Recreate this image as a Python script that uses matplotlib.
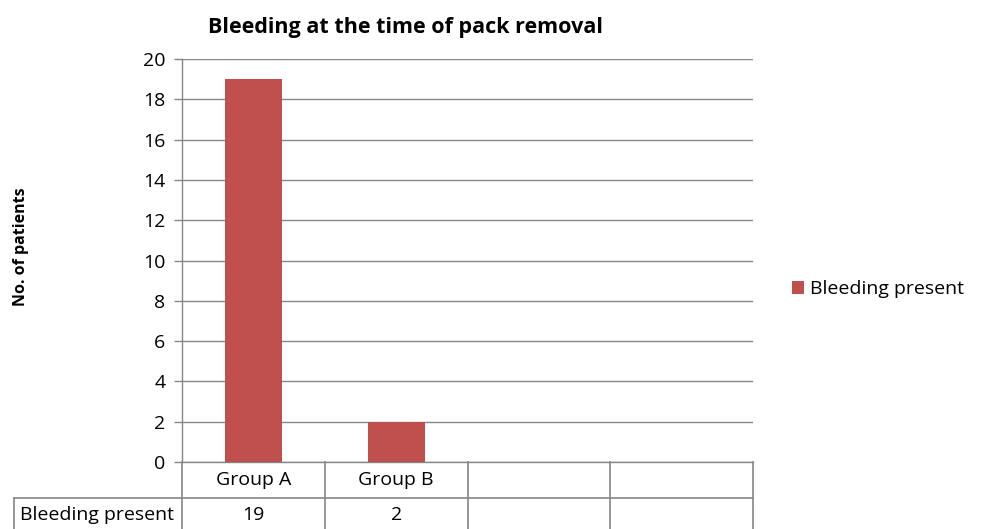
import matplotlib
matplotlib.use("Agg")
import matplotlib.pyplot as plt
from matplotlib.lines import Line2D
from matplotlib.patches import Patch

plt.rcParams['font.family'] = ['Open Sans', 'DejaVu Sans']

categories = ["Group A", "Group B", "", ""]
series_name = "Bleeding present"
values = [19, 2, None, None]
table_values = ["19", "2", "", ""]
title = "Bleeding at the time of pack removal"
ylabel = "No. of patients"

W, H = 981, 529
fig = plt.figure(figsize=(W / 100, H / 100), dpi=100)
L, R, T, B = 182, 753, 59, 462
ax = fig.add_axes([L / W, 1 - B / H, (R - L) / W, (B - T) / H])

FS = 14
bar_color = "#C0504D"
grid_color = "#868686"
xs = list(range(len(categories)))
bx = [x for x, v in zip(xs, values) if v is not None]
bv = [v for v in values if v is not None]
ax.bar(bx, bv, width=0.4, color=bar_color, zorder=3)
ax.set_xlim(-0.5, len(categories) - 0.5)
ax.set_ylim(0, 20)
ax.set_yticks(range(0, 21, 2))
ax.yaxis.grid(True, color=grid_color, linewidth=1.0, zorder=0)
ax.set_xticks([])
for s in ["top", "right"]:
    ax.spines[s].set_visible(False)
for s in ["left", "bottom"]:
    ax.spines[s].set_color(grid_color)
    ax.spines[s].set_linewidth(1.0)
ax.tick_params(axis="y", colors=grid_color, length=6, width=1.0, labelsize=FS, labelcolor="black", pad=6)

fig.text(405 / W, 1 - 28 / H, title, ha="center", va="center", fontsize=15.5, fontweight="bold")
fig.text(21 / W, 1 - 247 / H, ylabel, rotation=90, ha="center", va="center",
         fontsize=11.5, fontweight="bold")

axw = R - L
axh = B - T
def fx(px):
    return (px - L) / axw
def fy(py):
    return (B - py) / axh
row1 = 498
bottom = 540
col_w = axw / len(categories)
lw = 1.2
kw = dict(transform=ax.transAxes, color=grid_color, linewidth=lw, clip_on=False)
ax.add_line(Line2D([fx(14), 1], [fy(row1), fy(row1)], **kw))
ax.add_line(Line2D([1, 1], [fy(B), fy(bottom)], **kw))
for i in range(1, len(categories)):
    xp = L + i * col_w
    ax.add_line(Line2D([fx(xp), fx(xp)], [fy(B), fy(bottom)], **kw))
ax.add_line(Line2D([0, 0], [fy(B), fy(bottom)], **kw))
ax.add_line(Line2D([fx(14), fx(14)], [fy(row1), fy(bottom)], **kw))

for i, (c, tv) in enumerate(zip(categories, table_values)):
    ax.text(i, fy((B + row1) / 2), c, transform=ax.get_xaxis_transform(),
            ha="center", va="center", fontsize=FS)
    ax.text(i, fy((row1 + 529) / 2 + 1), tv, transform=ax.get_xaxis_transform(),
            ha="center", va="center", fontsize=FS)
ax.text(fx(97), fy((row1 + 529) / 2 + 1), series_name, transform=ax.transAxes,
        ha="center", va="center", fontsize=FS)

handles = [Patch(facecolor=bar_color, edgecolor="none", label=series_name)]
fig.legend(handles=handles, loc="center left", bbox_to_anchor=(784 / W, 1 - 289 / H),
           frameon=False, fontsize=FS, handlelength=0.65, handleheight=0.65,
           handletextpad=0.3, borderaxespad=0)

fig.savefig("out.png", dpi=100)
